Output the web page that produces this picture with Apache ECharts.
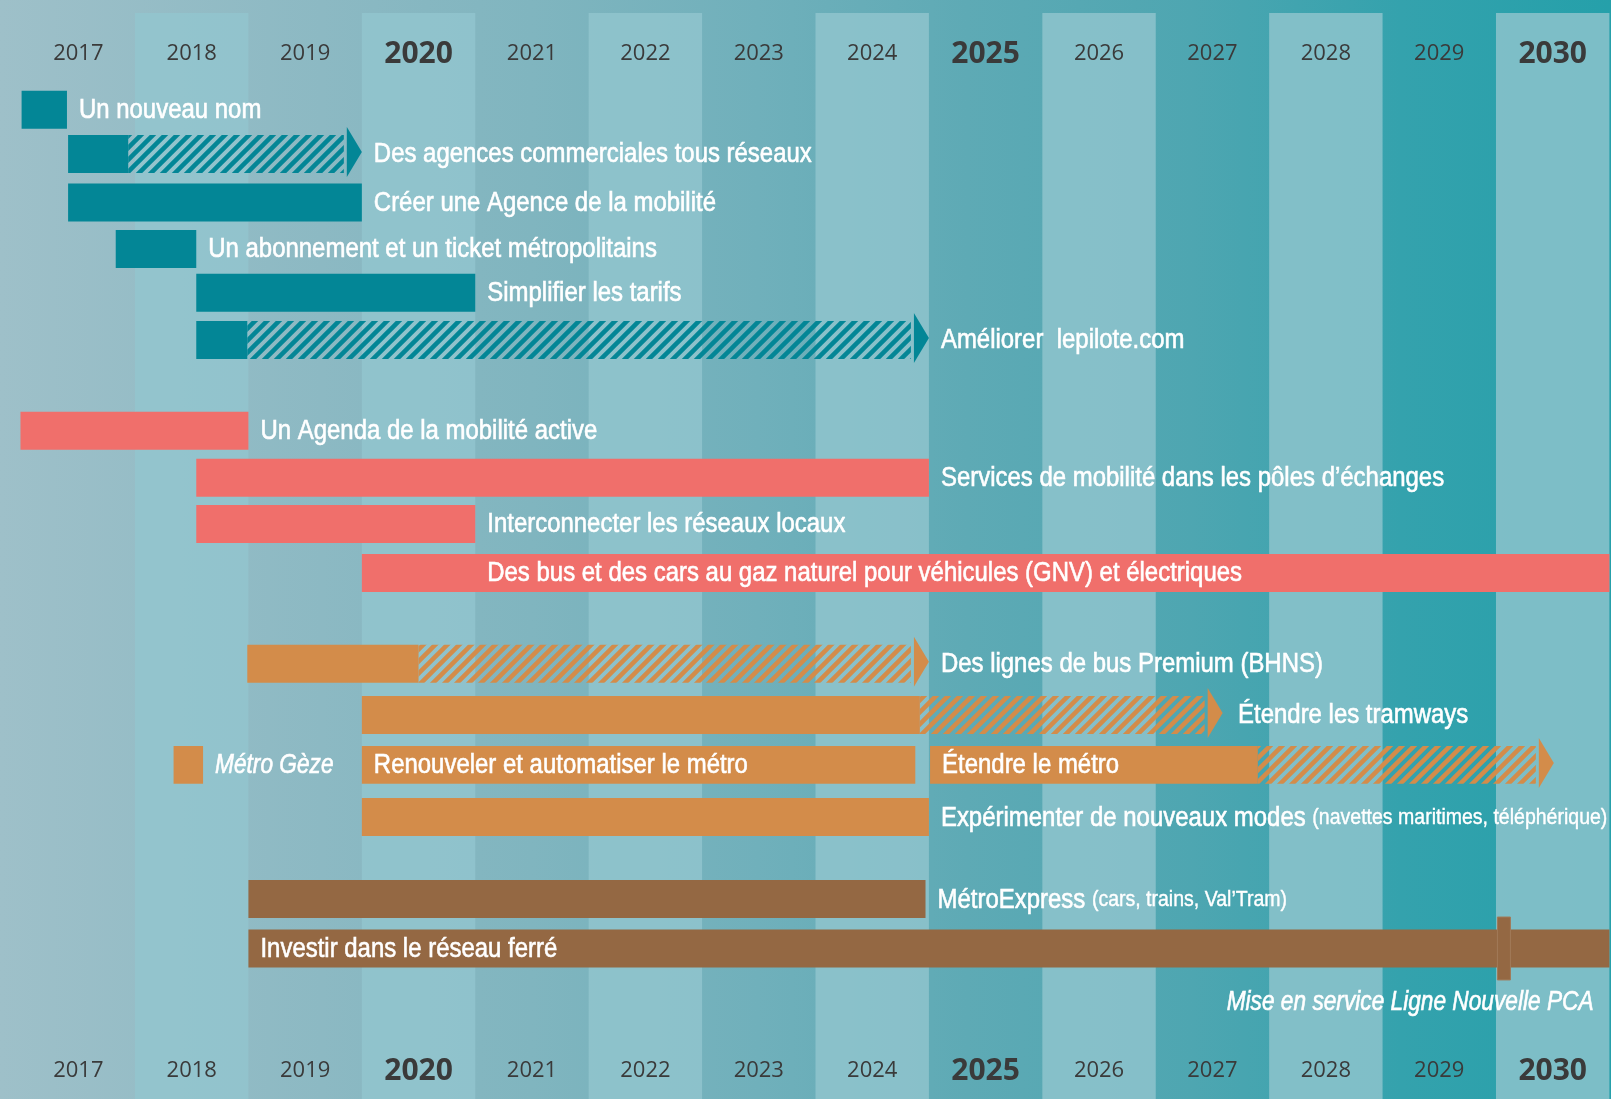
<!DOCTYPE html>
<html>
<head>
<meta charset="utf-8">
<script src="https://cdn.jsdelivr.net/npm/echarts@6/dist/echarts.min.js"></script>
<style>
html, body { margin: 0; padding: 0; }
#main {
  width: 1611px; height: 1099px;
  background: linear-gradient(to right, #9ec0c9 0%, #8cb9c3 20%, #80b5bf 33%, #70b0bb 47%, #5eaab5 60%, #4ea6b1 74%, #34a2ad 87%, #25a0aa 100%);
}
</style>
</head>
<body>
<div id="main"></div>
<script>
// années (colonnes)
var years = ['2017', '2018', '2019', '2020', '2021', '2022', '2023', '2024', '2025', '2026', '2027', '2028', '2029', '2030'];
var boldYears = ['2020', '2025', '2030'];

// actions : début, fin de la partie pleine, fin de la flèche hachurée (null = pas de hachures)
var taskNames = [
  'Un nouveau nom',
  'Des agences commerciales tous réseaux',
  'Créer une Agence de la mobilité',
  'Un abonnement et un ticket métropolitains',
  'Simplifier les tarifs',
  'Améliorer  lepilote.com',
  'Un Agenda de la mobilité active',
  'Services de mobilité dans les pôles d’échanges',
  'Interconnecter les réseaux locaux',
  'Des bus et des cars au gaz naturel pour véhicules (GNV) et électriques',
  'Des lignes de bus Premium (BHNS)',
  'Étendre les tramways',
  'Métro Gèze',
  'Renouveler et automatiser le métro',
  'Étendre le métro',
  'Expérimenter de nouveaux modes',
  'MétroExpress',
  'Investir dans le réseau ferré'
];
var taskNotes = ['', '', '', '', '', '', '', '', '', '', '', '', '', '', '',
  '(navettes maritimes, téléphérique)', '(cars, trains, Val’Tram)', ''];
var taskStart    = [2017.0, 2017.41, 2017.41, 2017.83, 2018.54, 2018.54, 2016.99, 2018.54, 2018.54, 2020.0, 2018.99, 2020.0, 2018.34, 2020.0, 2025.01, 2020.0, 2019.0, 2019.0];
var taskSolidEnd = [2017.4, 2017.94, 2020.0, 2018.54, 2021.0, 2018.99, 2019.0, 2025.0, 2021.0, 2031.0, 2020.5, 2024.92, 2018.6, 2024.88, 2027.9, 2025.0, 2024.97, 2031.0];
var taskArrowEnd = [null, 2020.0, null, null, null, 2025.0, null, null, null, null, 2025.0, 2027.59, null, null, 2030.51, null, null, null];
var taskLabelAt  = [2017.4, 2020.0, 2020.0, 2018.54, 2021.0, 2025.0, 2019.0, 2025.0, 2021.0, 2021.0, 2025.0, 2027.62, 2018.6, 2020.0, 2025.01, 2025.0, 2024.97, 2019.0];
var taskRow      = [0, 0.95, 1.99, 2.99, 3.93, 4.94, 6.89, 7.9, 8.89, 9.94, 11.89, 12.99, 14.06, 14.06, 14.06, 15.18, 16.94, 18.0];
var taskGroup    = [0, 0, 0, 0, 0, 0, 1, 1, 1, 1, 2, 2, 2, 2, 2, 2, 3, 3];
var taskItalic   = [false, false, false, false, false, false, false, false, false, false, false, false, true, false, false, false, false, false];

// jalon sur le réseau ferré
var milestoneYear = 2030.07;
var milestoneRow = 18.0;
var milestoneText = 'Mise en service Ligne Nouvelle PCA';
var milestoneTextEnd = 2030.86;
var milestoneTextRow = 19.15;

var groupColors = ['#038696', '#f06f6b', '#d38c4a', '#946843'];
// police étroite simulée : Liberation Sans compressée horizontalement
var labelFont = "'Liberation Sans', Arial, sans-serif";
var narrow = 0.887;
var narrowItalic = 0.84;

function makeHatch(color) {
  var c = document.createElement('canvas');
  c.width = 12; c.height = 12;
  var ctx = c.getContext('2d');
  ctx.strokeStyle = color;
  ctx.lineWidth = 4.5;
  ctx.beginPath();
  ctx.moveTo(-6, 6); ctx.lineTo(6, -6);
  ctx.moveTo(0, 12); ctx.lineTo(12, 0);
  ctx.moveTo(6, 18); ctx.lineTo(18, 6);
  ctx.stroke();
  return c;
}
var hatches = groupColors.map(makeHatch);

var taskData = taskNames.map(function (n, i) {
  return [taskStart[i], taskSolidEnd[i], taskArrowEnd[i] == null ? taskSolidEnd[i] : taskArrowEnd[i], taskRow[i]];
});

function renderTask(params, api) {
  var i = params.dataIndex;
  var row = api.value(3);
  var p0 = api.coord([api.value(0), row]);
  var p1 = api.coord([api.value(1), row]);
  var p2 = api.coord([api.value(2), row]);
  var h = api.size([0, 0.815])[1];
  var cy = p0[1], top = cy - h / 2;
  var g = taskGroup[i];
  var children = [{
    type: 'rect',
    shape: { x: p0[0], y: top, width: p1[0] - p0[0], height: h },
    style: { fill: groupColors[g] }
  }];
  if (p2[0] > p1[0] + 1) {
    var base = p2[0] - 15;
    children.push({
      type: 'rect',
      shape: { x: p1[0], y: top, width: base - 3 - p1[0], height: h },
      style: { fill: { image: hatches[g], repeat: 'repeat' } }
    });
    children.push({
      type: 'polygon',
      shape: { points: [[base, cy - 27], [p2[0], cy - 2], [base, cy + 23]] },
      style: { fill: groupColors[g] }
    });
  }
  var lx = api.coord([taskLabelAt[i], row])[0] + 12;
  var txt = taskNotes[i] ? '{a|' + taskNames[i] + '} {b|' + taskNotes[i] + '}' : taskNames[i];
  children.push({
    type: 'text',
    x: lx, y: cy + 1, scaleX: taskItalic[i] ? narrowItalic : narrow,
    style: {
      text: txt, x: 0, y: 0,
      fill: '#ffffff', stroke: '#ffffff', lineWidth: 0.6,
      fontFamily: labelFont, fontSize: 27,
      fontStyle: taskItalic[i] ? 'italic' : 'normal',
      align: 'left', verticalAlign: 'middle',
      rich: {
        a: { fill: '#ffffff', stroke: '#ffffff', lineWidth: 0.6, fontFamily: labelFont, fontSize: 27 },
        b: { fill: '#ffffff', stroke: '#ffffff', lineWidth: 0.4, fontFamily: labelFont, fontSize: 22 }
      }
    }
  });
  return { type: 'group', children: children };
}

function renderMilestone(params, api) {
  var p = api.coord([api.value(0), api.value(1)]);
  var h = api.size([0, 1.35])[1];
  var t = api.coord([milestoneTextEnd, milestoneTextRow]);
  return {
    type: 'group',
    children: [{
      type: 'rect',
      shape: { x: p[0] - 6.5, y: p[1] - h / 2, width: 13, height: h },
      style: { fill: groupColors[3], stroke: '#a27a58', lineWidth: 1 }
    }, {
      type: 'text',
      x: t[0], y: t[1], scaleX: narrowItalic,
      style: {
        text: milestoneText, x: 0, y: 0,
        fill: '#ffffff', stroke: '#ffffff', lineWidth: 0.6,
        fontFamily: labelFont, fontSize: 27, fontStyle: 'italic',
        align: 'right', verticalAlign: 'middle'
      }
    }]
  };
}

var yearLabel = {
  inside: true,
  interval: 0,
  verticalAlign: 'middle',
  formatter: function (v) {
    return boldYears.indexOf(v) >= 0 ? '{b|' + v + '}' : '{r|' + v + '}';
  },
  rich: {
    r: { fontSize: 22, fontFamily: "'Open Sans', 'Noto Sans', sans-serif", color: '#3a3a3a' },
    b: { fontSize: 30, fontWeight: 'bold', fontFamily: "'Open Sans', 'Noto Sans', sans-serif", color: '#3a3a3a' }
  }
};

var myChart = echarts.init(document.getElementById('main'));

var option = {
  backgroundColor: 'transparent',
  animation: false,
  grid: [
    { left: 21.6, right: 1.6, top: 13, bottom: 0, containLabel: false, outerBoundsMode: 'none' },
    { left: 21.6, right: 1.6, top: 13, bottom: 0, containLabel: false, outerBoundsMode: 'none' }
  ],
  xAxis: [
    { type: 'value', gridIndex: 0, min: 2017, max: 2031, show: false },
    {
      type: 'category', gridIndex: 1, position: 'top', data: years, boundaryGap: true,
      axisLine: { show: false }, axisTick: { show: false }, splitLine: { show: false },
      axisLabel: Object.assign({ margin: 41 }, yearLabel),
      splitArea: { show: true, interval: 0, areaStyle: { color: ['rgba(0,0,0,0)', 'rgba(146,198,206,0.8)'] } }
    },
    {
      type: 'category', gridIndex: 1, position: 'bottom', data: years, boundaryGap: true,
      axisLine: { show: false }, axisTick: { show: false }, splitLine: { show: false },
      axisLabel: Object.assign({ margin: 28 }, yearLabel)
    }
  ],
  yAxis: [
    { type: 'value', gridIndex: 0, inverse: true, min: -2.075, max: 21.23, show: false },
    { type: 'value', gridIndex: 1, min: 0, max: 1, show: false }
  ],
  series: [{
    type: 'custom',
    xAxisIndex: 0, yAxisIndex: 0,
    renderItem: renderTask,
    encode: { x: [0, 1, 2], y: 3 },
    data: taskData,
    silent: true,
    z: 3
  }, {
    type: 'custom',
    xAxisIndex: 0, yAxisIndex: 0,
    renderItem: renderMilestone,
    encode: { x: 0, y: 1 },
    data: [[milestoneYear, milestoneRow]],
    silent: true,
    z: 4
  }]
};

myChart.setOption(option);
</script>
</body>
</html>
